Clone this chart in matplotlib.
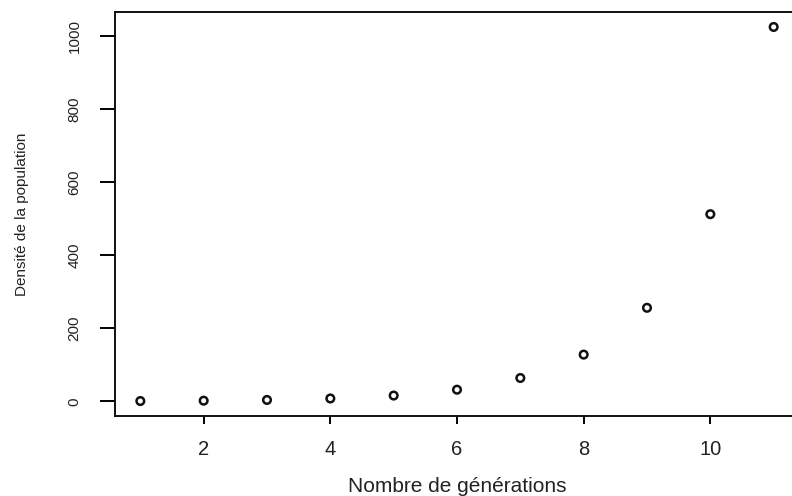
import matplotlib.pyplot as plt

# generations and population density
generations = [1, 2, 3, 4, 5, 6, 7, 8, 9, 10, 11]
density = [1, 2, 4, 8, 16, 32, 64, 128, 256, 512, 1024]
xticks = [2, 4, 6, 8, 10]
yticks = [0, 200, 400, 600, 800, 1000]

plt.rcParams['font.family'] = ['Liberation Sans', 'DejaVu Sans']
txt = '#222222'

fig = plt.figure(figsize=(7.92, 4.96), dpi=100)
# R-style plot region; right side runs a little past the picture edge
ax = fig.add_axes([115/792, 1 - 416/496, 684/792, 404/496])

ax.scatter(generations, density, s=30, facecolors='none',
           edgecolors='#111111', linewidths=1.8, zorder=3)

# R default 4% padding
xr = max(generations) - min(generations)
yr = max(density) - min(density)
ax.set_xlim(min(generations) - 0.04 * xr, max(generations) + 0.04 * xr)
ax.set_ylim(min(density) - 0.04 * yr, max(density) + 0.04 * yr)

ax.set_xticks(xticks)
ax.set_yticks(yticks)
ax.set_xticklabels([str(v) for v in xticks], fontsize=14.5, color=txt)
ax.set_yticklabels([str(v) for v in yticks], fontsize=11, color=txt,
                   rotation=90, va='center')
ax.tick_params(axis='x', direction='out', length=6, width=1.4, pad=11)
ax.tick_params(axis='y', direction='out', length=11, width=1.4, pad=13)

for sp in ax.spines.values():
    sp.set_linewidth(1.4)
    sp.set_color('#111111')
ax.spines['right'].set_visible(False)

fig.text(457/792, 1 - 487/496, 'Nombre de générations', fontsize=15,
         color=txt, ha='center', va='center')
fig.text(22/792, 1 - 214/496, 'Densité de la population', fontsize=11,
         color=txt, ha='center', va='center', rotation=90)

fig.savefig('out.png', dpi=100)
